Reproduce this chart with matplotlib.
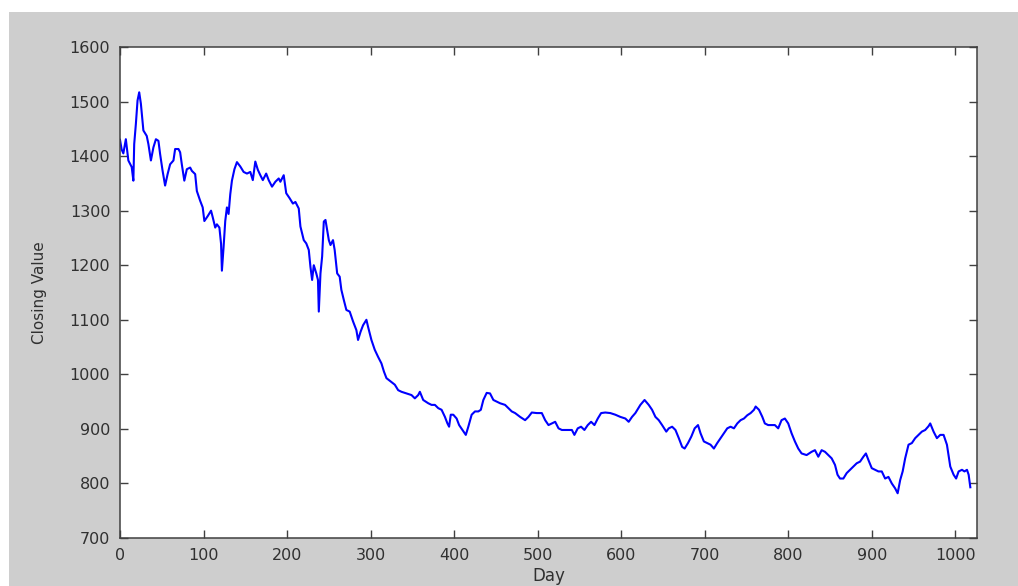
import numpy as np
import matplotlib.pyplot as plt
from matplotlib.patches import Rectangle

# closing values, by day
days = [0, 2, 4, 7, 10, 14, 16, 17, 19, 21, 23, 25, 28, 32, 34, 37, 40, 43, 46, 48,
        51, 54, 57, 60, 64, 66, 70, 72, 74, 77, 80, 84, 86, 90, 92, 96, 99, 101, 105, 109,
        111, 114, 116, 119, 121, 122, 124, 126, 128, 130, 132, 134, 137, 140, 144, 148, 152, 156, 159, 162,
        165, 168, 171, 175, 178, 182, 186, 190, 192, 196, 199, 203, 207, 210, 214, 216, 220, 223, 226, 228,
        230, 232, 235, 237, 238, 240, 242, 244, 246, 248, 250, 252, 255, 257, 260, 263, 265, 268, 271, 275,
        279, 283, 285, 288, 291, 295, 297, 301, 305, 309, 313, 316, 319, 324, 329, 333, 337, 343, 349, 353,
        357, 359, 363, 369, 373, 377, 381, 385, 389, 392, 394, 396, 399, 403, 406, 410, 414, 417, 421, 425,
        429, 432, 435, 439, 443, 447, 451, 455, 461, 465, 469, 473, 479, 485, 489, 493, 499, 505, 509, 513,
        517, 521, 525, 529, 535, 541, 544, 548, 552, 556, 560, 564, 568, 572, 576, 581, 587, 593, 599, 605,
        609, 613, 617, 623, 628, 633, 637, 641, 645, 649, 654, 657, 661, 665, 669, 673, 676, 680, 684, 688,
        692, 695, 699, 703, 707, 711, 715, 719, 723, 727, 731, 735, 739, 743, 747, 751, 755, 759, 761, 765,
        769, 772, 776, 781, 784, 788, 792, 796, 800, 804, 808, 812, 816, 822, 828, 832, 836, 840, 844, 848,
        852, 856, 859, 862, 866, 870, 874, 878, 882, 886, 890, 893, 896, 900, 904, 908, 912, 916, 920, 924,
        928, 931, 934, 937, 940, 944, 948, 952, 956, 960, 964, 968, 970, 974, 978, 982, 986, 990, 994, 998,
        1001, 1004, 1008, 1011, 1014, 1016, 1018]
closing = [1430, 1412, 1405, 1431, 1392, 1380, 1355, 1422, 1459, 1502, 1517, 1496, 1447, 1437, 1422, 1392, 1416, 1431, 1428, 1404,
           1373, 1346, 1367, 1385, 1392, 1413, 1413, 1407, 1385, 1355, 1376, 1379, 1373, 1367, 1336, 1318, 1306, 1281, 1290, 1300,
           1288, 1269, 1275, 1269, 1239, 1190, 1233, 1281, 1306, 1294, 1330, 1355, 1376, 1389, 1381, 1371, 1368, 1371, 1356, 1390,
           1375, 1365, 1356, 1368, 1356, 1344, 1353, 1359, 1353, 1365, 1332, 1323, 1313, 1316, 1304, 1271, 1246, 1240, 1228, 1197,
           1173, 1200, 1185, 1173, 1115, 1185, 1216, 1280, 1283, 1265, 1246, 1237, 1246, 1228, 1185, 1179, 1155, 1136, 1118, 1115,
           1097, 1081, 1063, 1078, 1090, 1100, 1087, 1063, 1045, 1032, 1020, 1005, 993, 987, 981, 971, 968, 965, 962, 956,
           962, 968, 953, 947, 944, 944, 938, 935, 922, 910, 904, 926, 926, 919, 907, 898, 889, 904, 926, 932,
           932, 935, 953, 966, 965, 953, 950, 947, 944, 938, 932, 929, 922, 916, 922, 930, 929, 929, 916, 907,
           910, 913, 901, 898, 898, 898, 889, 901, 904, 898, 907, 913, 907, 919, 929, 930, 929, 926, 922, 919,
           913, 922, 929, 944, 953, 944, 935, 922, 916, 907, 895, 901, 904, 898, 883, 867, 864, 874, 886, 901,
           907, 892, 877, 874, 871, 864, 874, 883, 892, 901, 904, 901, 910, 916, 919, 925, 929, 935, 941, 935,
           922, 910, 907, 907, 907, 901, 916, 919, 910, 892, 877, 864, 855, 852, 858, 861, 849, 861, 858, 852,
           846, 834, 816, 809, 809, 819, 825, 831, 837, 840, 849, 855, 843, 828, 825, 822, 822, 809, 812, 800,
           791, 782, 806, 822, 846, 871, 874, 883, 889, 895, 898, 905, 910, 895, 883, 889, 889, 871, 831, 816,
           809, 822, 825, 822, 825, 816, 793]

fig = plt.figure(figsize=(10.18, 5.86), dpi=100, facecolor='white')
fig.patches.append(Rectangle((9 / 1018, 0), 1, 1 - 12 / 586, transform=fig.transFigure,
                             facecolor='#cecece', edgecolor='none', zorder=-1))

ax = fig.add_axes([120 / 1018, 1 - 538 / 586, 857 / 1018, 491 / 586])
ax.plot(days, closing, color='#0000ff', lw=1.5)

ax.set_xlim(0, 1026)
ax.set_ylim(700, 1600)
ax.set_xticks(np.arange(0, 1001, 100))
ax.set_yticks(np.arange(700, 1601, 100))
ax.tick_params(direction='in', top=True, right=True, length=6, width=1,
               color='#404040', labelsize=11.5, labelcolor='#303030', pad=7)
for s in ax.spines.values():
    s.set_color('#404040')
    s.set_linewidth(1.1)

ax.set_xlabel('Day', fontsize=12, color='#303030', labelpad=3)
ax.set_ylabel('Closing Value', fontsize=11, color='#303030', labelpad=16)

plt.savefig('out.png', dpi=100, facecolor=fig.get_facecolor())
